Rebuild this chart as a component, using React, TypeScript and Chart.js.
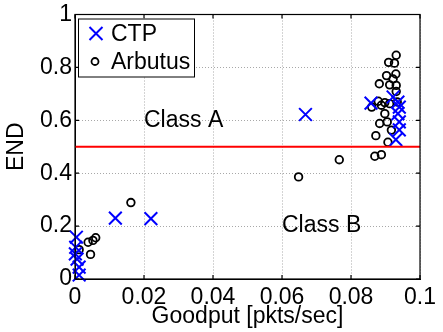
import React, { useEffect, useRef } from "react";
import { Chart, registerables } from "chart.js";

Chart.register(...registerables);

// CTP measurements: goodput (pkts/sec) and END
const ctpGoodput = [
  0.0004, 0.0002, 0.0001, 0.0006, 0.0012, 0.0012,
  0.0117, 0.022, 0.0668,
  0.0858, 0.0922, 0.0936, 0.094, 0.0936, 0.094, 0.094, 0.093,
];
const ctpEnd = [
  0.158, 0.12, 0.095, 0.075, 0.045, 0.015,
  0.23, 0.228, 0.622,
  0.665, 0.688, 0.669, 0.65, 0.625, 0.594, 0.564, 0.527,
];

// Arbutus measurements: goodput (pkts/sec) and END
const arbutusGoodput = [
  0.0012, 0.0038, 0.0052, 0.006, 0.0045,
  0.0162, 0.0648, 0.0766,
  0.0931, 0.0909, 0.0926, 0.093, 0.0903, 0.0922, 0.0882, 0.0912, 0.0931, 0.0931,
  0.0879, 0.0898, 0.0912, 0.0888, 0.086, 0.0934, 0.0898, 0.0883, 0.0905, 0.0917,
  0.0872, 0.0907, 0.0869, 0.0888,
];
const arbutusEnd = [
  0.111, 0.139, 0.146, 0.156, 0.093,
  0.289, 0.386, 0.451,
  0.846, 0.819, 0.816, 0.775, 0.769, 0.756, 0.738, 0.734, 0.732, 0.709,
  0.672, 0.667, 0.663, 0.657, 0.65, 0.669, 0.625, 0.588, 0.594, 0.563,
  0.542, 0.517, 0.464, 0.47,
];

// Class boundary
const boundaryGoodput = [0, 0.1];
const boundaryEnd = [0.5, 0.5];

// Region labels
const classNames = ["Class A", "Class B"];
const classGoodput = [0.02, 0.06];
const classEnd = [0.6, 0.2];

// Axis ticks
const xTicks = [0, 0.02, 0.04, 0.06, 0.08, 0.1];
const yTicks = [0, 0.2, 0.4, 0.6, 0.8, 1];

const seriesNames = ["CTP", "Arbutus"];

const FONT = "'Liberation Sans', Arial, Helvetica, sans-serif";
const FONT_SIZE = 23;
const BLUE = "#0000ff";

const toPoints = (xs: number[], ys: number[]) => xs.map((x, i) => ({ x, y: ys[i] }));

const framePlugin = {
  id: "frame",
  afterDraw(chart: any) {
    const { ctx, chartArea: a, scales } = chart;
    const xs = scales.x;
    const ys = scales.y;
    ctx.save();

    // region labels
    ctx.fillStyle = "#000";
    ctx.font = `${FONT_SIZE}px ${FONT}`;
    ctx.textAlign = "left";
    ctx.textBaseline = "middle";
    classNames.forEach((t, i) => {
      ctx.fillText(t, xs.getPixelForValue(classGoodput[i]), ys.getPixelForValue(classEnd[i]));
    });

    // axes box
    ctx.strokeStyle = "#000";
    ctx.lineWidth = 1.2;
    ctx.strokeRect(a.left, a.top, a.right - a.left, a.bottom - a.top);

    // inward tick marks on all four sides
    const tl = 4;
    ctx.beginPath();
    xTicks.forEach((v) => {
      const px = xs.getPixelForValue(v);
      ctx.moveTo(px, a.bottom);
      ctx.lineTo(px, a.bottom - tl);
      ctx.moveTo(px, a.top);
      ctx.lineTo(px, a.top + tl);
    });
    yTicks.forEach((v) => {
      const py = ys.getPixelForValue(v);
      ctx.moveTo(a.left, py);
      ctx.lineTo(a.left + tl, py);
      ctx.moveTo(a.right, py);
      ctx.lineTo(a.right - tl, py);
    });
    ctx.stroke();

    // legend
    const lx = a.left + 3;
    const ly = a.top + 4;
    const lw = 116;
    const lh = 58;
    ctx.fillStyle = "#fff";
    ctx.fillRect(lx, ly, lw, lh);
    ctx.lineWidth = 1;
    ctx.strokeStyle = "#000";
    ctx.strokeRect(lx + 0.5, ly + 0.5, lw, lh);

    const row1 = ly + 15;
    const row2 = ly + 43;
    const mx = lx + 18;
    // cross marker
    ctx.strokeStyle = BLUE;
    ctx.lineWidth = 2;
    ctx.beginPath();
    ctx.moveTo(mx - 6.5, row1 - 6.5);
    ctx.lineTo(mx + 6.5, row1 + 6.5);
    ctx.moveTo(mx - 6.5, row1 + 6.5);
    ctx.lineTo(mx + 6.5, row1 - 6.5);
    ctx.stroke();
    // circle marker
    ctx.strokeStyle = "#000";
    ctx.lineWidth = 1.8;
    ctx.beginPath();
    ctx.arc(mx - 1, row2, 3.5, 0, Math.PI * 2);
    ctx.stroke();

    ctx.fillStyle = "#000";
    ctx.textAlign = "left";
    ctx.textBaseline = "middle";
    ctx.fillText(seriesNames[0], lx + 33, row1 + 1);
    ctx.fillText(seriesNames[1], lx + 33, row2 + 1);

    ctx.restore();
  },
};

export default function App() {
  const canvasRef = useRef<HTMLCanvasElement | null>(null);

  useEffect(() => {
    const canvas = canvasRef.current;
    if (!canvas) return;
    const chart = new Chart(canvas, {
      type: "scatter",
      data: {
        datasets: [
          {
            label: seriesNames[0],
            data: toPoints(ctpGoodput, ctpEnd),
            pointStyle: "crossRot",
            pointRadius: 9,
            pointBorderWidth: 2,
            borderColor: BLUE,
            backgroundColor: BLUE,
            clip: false,
            order: 2,
          },
          {
            label: seriesNames[1],
            data: toPoints(arbutusGoodput, arbutusEnd),
            pointStyle: "circle",
            pointRadius: 3.8,
            pointBorderWidth: 1.8,
            borderColor: "#000",
            backgroundColor: "rgba(0,0,0,0)",
            clip: false,
            order: 3,
          },
          {
            type: "line",
            label: "boundary",
            data: toPoints(boundaryGoodput, boundaryEnd),
            borderColor: "#ff0000",
            borderWidth: 2,
            pointRadius: 0,
            showLine: true,
            order: 1,
          } as any,
        ],
      },
      options: {
        animation: false,
        responsive: false,
        devicePixelRatio: 1,
        layout: { padding: { top: 11, right: 19, left: 0, bottom: 0 } },
        plugins: {
          legend: { display: false },
          tooltip: { enabled: false },
        },
        scales: {
          x: {
            type: "linear",
            min: 0,
            max: 0.1,
            afterBuildTicks: (s: any) => {
              s.ticks = xTicks.map((v) => ({ value: v }));
            },
            afterFit: (s: any) => {
              s.height = 53;
            },
            ticks: {
              color: "#000",
              font: { family: FONT, size: FONT_SIZE, lineHeight: 1 },
              padding: 7,
              maxRotation: 0,
              callback: (v: any) => String(v),
            },
            grid: {
              color: "#a8a8a8",
              lineWidth: 1,
              drawTicks: false,
            },
            border: { display: true, color: "#000", width: 1, dash: [1, 2] },
            title: {
              display: true,
              text: "Goodput [pkts/sec]",
              color: "#000",
              font: { family: FONT, size: FONT_SIZE, lineHeight: 1 },
              padding: { top: 0, bottom: 4 },
            },
          },
          y: {
            type: "linear",
            min: 0,
            max: 1,
            afterBuildTicks: (s: any) => {
              s.ticks = yTicks.map((v) => ({ value: v }));
            },
            afterFit: (s: any) => {
              s.width = 75;
            },
            ticks: {
              color: "#000",
              font: { family: FONT, size: FONT_SIZE, lineHeight: 1 },
              padding: 3,
              callback: (v: any) => String(v),
            },
            grid: {
              color: "#a8a8a8",
              lineWidth: 1,
              drawTicks: false,
            },
            border: { display: true, color: "#000", width: 1, dash: [1, 2] },
            title: {
              display: true,
              text: "END",
              color: "#000",
              font: { family: FONT, size: FONT_SIZE, lineHeight: 1 },
              padding: { top: 5, bottom: 0 },
            },
          },
        },
      },
      plugins: [framePlugin],
    });
    return () => chart.destroy();
  }, []);

  return (
    <div style={{ position: "absolute", left: 0, top: 0, width: 443, height: 332, background: "#fff" }}>
      <canvas ref={canvasRef} width={443} height={332} style={{ display: "block" }} />
    </div>
  );
}
